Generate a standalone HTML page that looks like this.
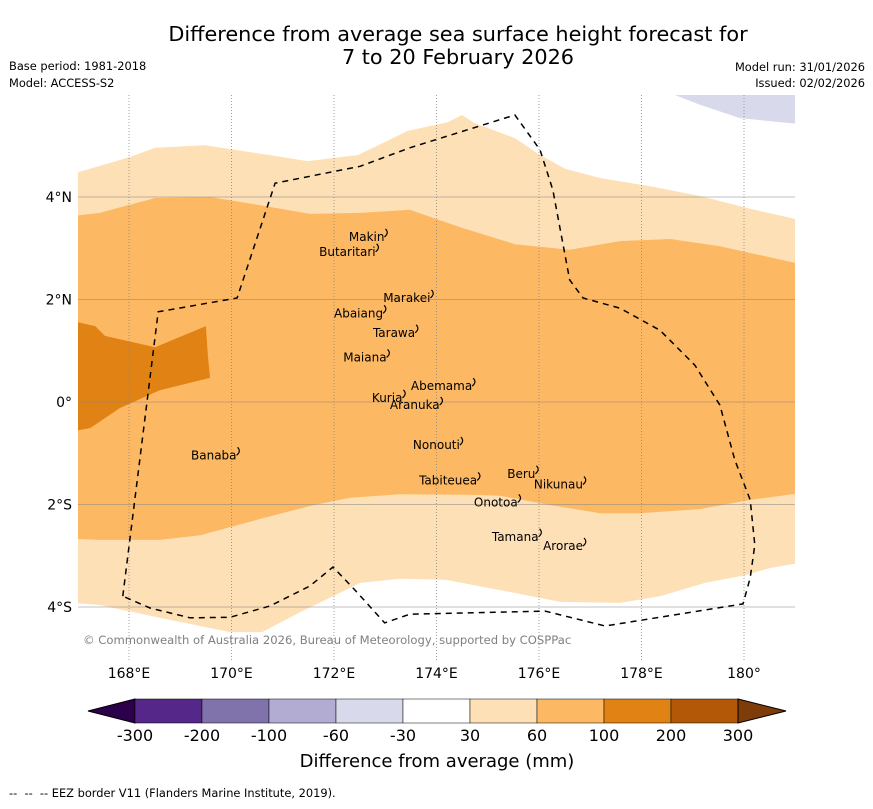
<!DOCTYPE html>
<html><head><meta charset="utf-8"><style>
body{margin:0;background:#fff;font-family:"Liberation Sans","DejaVu Sans",sans-serif}
svg text{font-family:"DejaVu Sans","Liberation Sans",sans-serif}
</style></head><body>
<svg id="chart" width="873" height="804" viewBox="0 0 873 804" xmlns="http://www.w3.org/2000/svg">
<rect width="873" height="804" fill="#fff"/>
<text x="458" y="41" font-size="20.8" text-anchor="middle">Difference from average sea surface height forecast for</text>
<text x="458" y="64" font-size="20.8" text-anchor="middle">7 to 20 February 2026</text>
<text x="9" y="70" font-size="11.4">Base period: 1981-2018</text>
<text x="9" y="87" font-size="11.4">Model: ACCESS-S2</text>
<text x="865" y="71" font-size="11.4" text-anchor="end">Model run: 31/01/2026</text>
<text x="865" y="87" font-size="11.4" text-anchor="end">Issued: 02/02/2026</text>
<defs><clipPath id="mapclip"><rect x="78" y="95" width="717" height="563"/></clipPath></defs>
<g id="map" clip-path="url(#mapclip)"></g>
<g id="axes"></g>
<text x="83" y="644" font-size="11.6" fill="#808080">© Commonwealth of Australia 2026, Bureau of Meteorology, supported by COSPPac</text>
<g id="cbar"></g>
<text x="437" y="767" font-size="18" text-anchor="middle">Difference from average (mm)</text>
<text x="9" y="797" font-size="11.4" xml:space="preserve">--  --  -- EEZ border V11 (Flanders Marine Institute, 2019).</text>
</svg>
<script>
const lonTicks=[168,170,172,174,176,178,180];
const lonTickLabels=["168°E","170°E","172°E","174°E","176°E","178°E","180°"];
const latTicks=[4,2,0,-2,-4];
const latTickLabels=["4°N","2°N","0°","2°S","4°S"];
const cbarBins=["-300","-200","-100","-60","-30","30","60","100","200","300"];
const cbarColors=["#542788","#8073ac","#b2abd2","#d8daeb","#ffffff","#fee0b6","#fdb863","#e08214","#b35806"];
const lightBand=[[166.9,4.45],[168.02,4.78],[168.51,4.96],[169.48,5.01],[170.46,4.86],[171.49,4.70],[172.47,4.82],[173.44,5.29],[174.22,5.46],[174.5,5.6],[174.75,5.44],[175.53,5.15],[176.02,4.82],[176.51,4.55],[177.19,4.37],[178.17,4.21],[179.14,4.02],[180.12,3.77],[181.1,3.55],[181.1,-3.14],[180.51,-3.24],[180.02,-3.38],[179.24,-3.53],[178.36,-3.79],[177.58,-3.92],[176.41,-3.9],[175.24,-3.67],[174.17,-3.47],[173.29,-3.45],[172.51,-3.53],[172.02,-3.77],[171.34,-4.1],[170.6,-4.49],[169.97,-4.49],[168.6,-4.21],[167.43,-3.96],[166.9,-3.92]];
const mediumBand=[[166.9,3.63],[167.43,3.69],[168.51,3.98],[169.58,4.0],[170.56,3.84],[171.53,3.67],[172.51,3.69],[173.48,3.75],[174.46,3.41],[175.53,3.08],[176.6,2.97],[177.58,3.14],[178.56,3.18],[179.53,3.04],[181.1,2.69],[181.1,-1.78],[180.12,-1.91],[179.14,-2.09],[177.97,-2.17],[177.19,-2.17],[176.21,-2.01],[175.24,-1.83],[174.65,-1.81],[173.29,-1.8],[172.31,-1.87],[171.53,-2.03],[170.56,-2.28],[169.39,-2.6],[168.6,-2.69],[167.43,-2.69],[166.9,-2.67]];
const darkPatch=[[166.9,1.58],[167.34,1.48],[167.53,1.29],[168.51,1.07],[169.5,1.48],[169.54,0.9],[169.58,0.47],[168.6,0.23],[167.82,-0.12],[167.24,-0.51],[166.9,-0.57]];
const purplePatch=[[178.65,6.1],[178.65,5.99],[179.14,5.8],[179.92,5.54],[181.1,5.42],[181.1,6.1]];
const eezBorder=[[167.88,-3.79],[168.57,1.76],[170.11,2.03],[170.85,4.27],[172.51,4.6],[173.48,4.96],[175.53,5.6],[176.02,4.92],[176.27,4.14],[176.6,2.38],[176.86,2.03],[177.58,1.83],[178.36,1.4],[179.04,0.72],[179.53,-0.06],[179.82,-1.13],[180.12,-1.91],[180.21,-2.79],[180.12,-3.43],[179.98,-3.94],[177.29,-4.37],[176.12,-4.08],[173.48,-4.14],[172.99,-4.31],[172.41,-3.67],[171.98,-3.22],[171.53,-3.59],[170.75,-3.98],[169.97,-4.2],[169.19,-4.21],[168.41,-4.02],[167.88,-3.79]];
const islandNames=["Makin","Butaritari","Marakei","Abaiang","Tarawa","Maiana","Abemama","Kuria","Aranuka","Nonouti","Tabiteuea","Beru","Nikunau","Onotoa","Tamana","Arorae","Banaba"];
const islandLon=[172.29,171.71,172.96,172.0,172.76,172.18,173.5,172.74,173.09,173.54,173.66,175.38,175.9,174.73,175.08,176.08,169.21];
const islandLat=[3.22,2.93,2.03,1.73,1.35,0.87,0.31,0.08,-0.06,-0.84,-1.53,-1.4,-1.61,-1.96,-2.63,-2.81,-1.04];
const NS="http://www.w3.org/2000/svg";
const x=lon=>129+(lon-168)*51.25;
const y=lat=>402-lat*51.25;
function mk(tag,attrs,parent){const e=document.createElementNS(NS,tag);for(const k in attrs)e.setAttribute(k,attrs[k]);parent.appendChild(e);return e;}
const map=document.getElementById('map'),axes=document.getElementById('axes'),cbar=document.getElementById('cbar');
const pts=a=>a.map(p=>x(p[0]).toFixed(1)+','+y(p[1]).toFixed(1)).join(' ');
let e;
e=mk('polygon',{points:pts(lightBand),fill:"#fee0b6"},map);


e=mk('polygon',{points:pts(mediumBand),fill:"#fdb863"},map);


e=mk('polygon',{points:pts(darkPatch),fill:"#e08214"},map);


e=mk('polygon',{points:pts(purplePatch),fill:"#d8daeb"},map);


lonTicks.forEach((t,i)=>{
 e=mk('line',{x1:x(t),x2:x(t),y1:95,y2:660,stroke:"#888","stroke-width":0.8,"stroke-dasharray":"1,2"},axes);
 
 
 e=mk('text',{x:x(t),y:678,"font-size":14,"text-anchor":"middle"},axes);e.textContent=lonTickLabels[i];
 
 
});
latTicks.forEach((t,i)=>{
 e=mk('line',{x1:78,x2:795,y1:y(t),y2:y(t),stroke:"#888","stroke-width":0.8,"stroke-opacity":0.7},axes);
 
 
 e=mk('text',{x:72,y:y(t)+5,"font-size":14,"text-anchor":"end"},axes);e.textContent=latTickLabels[i];
 
 
});
e=mk('polyline',{points:pts(eezBorder),fill:"none",stroke:"#000","stroke-width":1.5,"stroke-dasharray":"6,5"},axes);


islandNames.forEach((n,i)=>{
 e=mk('text',{x:x(islandLon[i]),y:y(islandLat[i])+4,"font-size":12,"text-anchor":"start"},axes);e.textContent=n;
 
 
 const w=e.getComputedTextLength();
 e=mk('path',{d:`M${x(islandLon[i])+w+1},${y(islandLat[i])-8} q4,4 -1,8`,fill:"none",stroke:"#000","stroke-width":1.2},axes);
 
 
});
const cx0=135,cw=67,cy=699,ch=24;
e=mk('polygon',{points:`${cx0},${cy} 88,${cy+ch/2} ${cx0},${cy+ch}`,fill:"#2d004b",stroke:"#000","stroke-width":1},cbar);


cbarColors.forEach((c,i)=>{
 e=mk('rect',{x:cx0+i*cw,y:cy,width:cw,height:ch,fill:c,stroke:"#000","stroke-width":0.5},cbar);
 
 
});
const cx1=cx0+cbarColors.length*cw;
e=mk('polygon',{points:`${cx1},${cy} 786,${cy+ch/2} ${cx1},${cy+ch}`,fill:"#7f3b08",stroke:"#000","stroke-width":1},cbar);


cbarBins.forEach((b,i)=>{
 e=mk('text',{x:cx0+i*cw,y:741,"font-size":16,"text-anchor":"middle"},cbar);e.textContent=b;
 
 
});
</script>
</body></html>
